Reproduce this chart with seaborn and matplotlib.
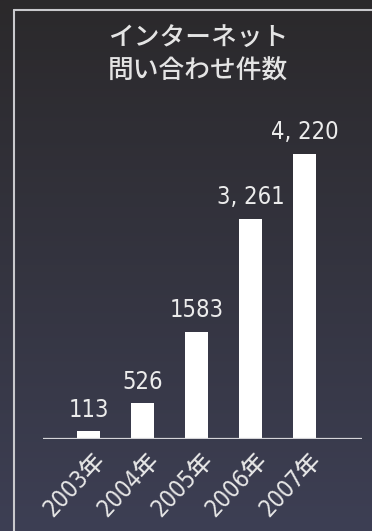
import numpy as np
import pandas as pd
import matplotlib
matplotlib.use("Agg")
import matplotlib.pyplot as plt
import matplotlib.transforms as mtransforms
from matplotlib.lines import Line2D
import seaborn as sns

# ---- data ----
years = ["2003年", "2004年", "2005年", "2006年", "2007年"]
counts = [113, 526, 1583, 3261, 4220]
value_labels = ["113", "526", "1583", "3, 261", "4, 220"]
title_text = "インターネット\n問い合わせ件数"

sns.set_theme(style="dark")
plt.rcParams["font.family"] = ["Noto Sans CJK JP", "DejaVu Sans"]
num_family = ["DejaVu Sans", "Noto Sans CJK JP"]

W, H = 372, 531
fig = plt.figure(figsize=(W / 100, H / 100), dpi=100)

# background gradient
bg = fig.add_axes([0, 0, 1, 1], zorder=-10)
top_c = np.array([0x2b, 0x29, 0x2b]) / 255
bot_c = np.array([0x3d, 0x3f, 0x54]) / 255
t = np.linspace(0, 1, 256)[:, None]
grad = top_c[None, :] * (1 - t) + bot_c[None, :] * t
bg.imshow(grad[:, None, :], aspect="auto", extent=[0, 1, 0, 1])
bg.set_axis_off()

# frame lines (top & left)
frame_c = "#c9c9cd"
fig.add_artist(Line2D([14 / W, 14 / W], [0, 1 - 10 / H], color=frame_c, lw=1.5,
                      transform=fig.transFigure))
fig.add_artist(Line2D([14 / W, 1], [1 - 10 / H, 1 - 10 / H], color=frame_c, lw=1.5,
                      transform=fig.transFigure))

# main axes
ax_bottom_px = 439
ax_top_px = 120
ax = fig.add_axes([43 / W, (H - ax_bottom_px) / H, (362 - 43) / W,
                   (ax_bottom_px - ax_top_px) / H])
ax.set_facecolor("none")

df = pd.DataFrame({"year": years, "count": counts})
sns.barplot(data=df, x="year", y="count", color="white", saturation=1,
            width=0.43, ax=ax, edgecolor="none")

ax.set_xlim(-0.85, 5.06)
ax.set_ylim(0, 4720)
ax.axhline(0, color="#d4d4d8", lw=1.6, zorder=5)
for s in ax.spines.values():
    s.set_visible(False)
ax.set_yticks([])
ax.set_xlabel("")
ax.set_ylabel("")
ax.grid(False)

# value labels
texts = ax.bar_label(ax.containers[0], labels=value_labels, padding=7,
                     color="#ececec", fontsize=17, family=num_family,
                     fontstretch="condensed", fontweight="medium")
shift = mtransforms.ScaledTranslation(-0.03, 0, fig.dpi_scale_trans)
for tx in texts:
    tx.set_transform(tx.get_transform() + shift)

# tick labels
ax.tick_params(axis="x", length=0, pad=0, colors="#e6e6e6")
ax.set_xticks(range(len(years)))
ax.set_xticklabels(years, rotation=47, ha="right", va="center",
                   rotation_mode="anchor", fontsize=17, family=num_family,
                   fontstretch="condensed", fontweight="medium",
                   color="#e6e6e6")
offset = mtransforms.ScaledTranslation(0.12, -0.17, fig.dpi_scale_trans)
for lab in ax.get_xticklabels():
    lab.set_transform(lab.get_transform() + offset)

# title
fig.text(198 / W, 1 - 55 / H, title_text, ha="center", va="center",
         fontsize=18.5, color="#e4e4e4", linespacing=1.3, fontweight="medium")

fig.savefig("out.png", dpi=100)
